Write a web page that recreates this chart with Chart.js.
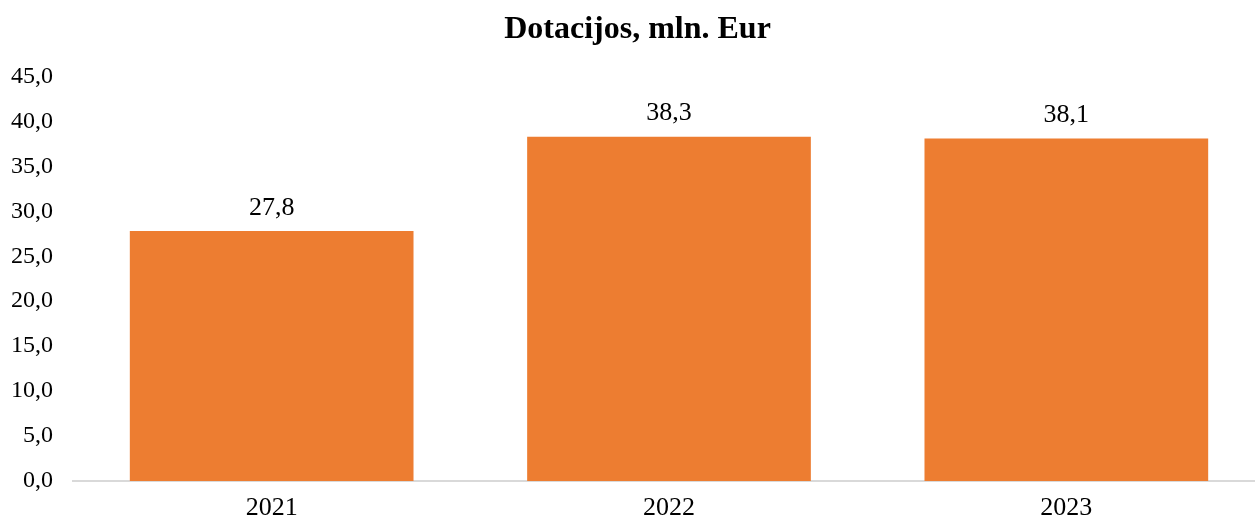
<!DOCTYPE html>
<html>
<head>
<meta charset="utf-8">
<script src="https://cdn.jsdelivr.net/npm/chart.js@4/dist/chart.umd.min.js"></script>
<style>
html,body{margin:0;padding:0;overflow:hidden;background:#fff;}
#wrap{width:1265px;height:519px;}
</style>
</head>
<body>
<div id="wrap"><canvas id="c" width="1265" height="519"></canvas></div>
<script>
const title = "Dotacijos, mln. Eur";
const categories = ["2021", "2022", "2023"];
const values = [27.8, 38.3, 38.1];
const yMin = 0, yMax = 45, yStep = 5;

const fmt = v => v.toFixed(1).replace('.', ',');
const FONT = "'Liberation Serif', 'Times New Roman', serif";

const labelPlugin = {
  id: 'valueLabels',
  afterDatasetsDraw(chart) {
    const ctx = chart.ctx;
    const meta = chart.getDatasetMeta(0);
    ctx.save();
    ctx.font = "26px " + FONT;
    ctx.fillStyle = "#000";
    ctx.textAlign = "center";
    ctx.textBaseline = "middle";
    meta.data.forEach((bar, i) => {
      ctx.fillText(fmt(chart.data.datasets[0].data[i]), bar.x, bar.y - 23);
    });
    ctx.restore();
  }
};

new Chart(document.getElementById('c'), {
  type: 'bar',
  data: {
    labels: categories,
    datasets: [{
      data: values,
      backgroundColor: '#ED7D31',
      barPercentage: 0.714,
      categoryPercentage: 1.0
    }]
  },
  options: {
    responsive: false,
    animation: false,
    layout: { padding: { left: 10, right: 0, top: 0, bottom: 0 } },
    plugins: {
      legend: { display: false },
      tooltip: { enabled: false },
      title: {
        display: true,
        text: title,
        color: '#000',
        font: { family: FONT, size: 32, weight: 'bold', lineHeight: 1.2 },
        padding: { top: 11, bottom: 27 }
      }
    },
    scales: {
      x: {
        afterFit(scale) { scale.height = 38; },
        grid: { display: false, drawTicks: false },
        border: { display: true, color: '#d9d9d9', width: 2 },
        ticks: { color: '#000', font: { family: FONT, size: 26 }, padding: 12 }
      },
      y: {
        min: yMin, max: yMax,
        afterFit(scale) { scale.width = 63; },
        grid: { display: false, drawTicks: false },
        border: { display: false },
        ticks: {
          stepSize: yStep,
          color: '#000',
          padding: 20,
          font: { family: FONT, size: 24 },
          callback: v => fmt(v)
        }
      }
    }
  },
  plugins: [labelPlugin]
});
</script>
</body>
</html>
